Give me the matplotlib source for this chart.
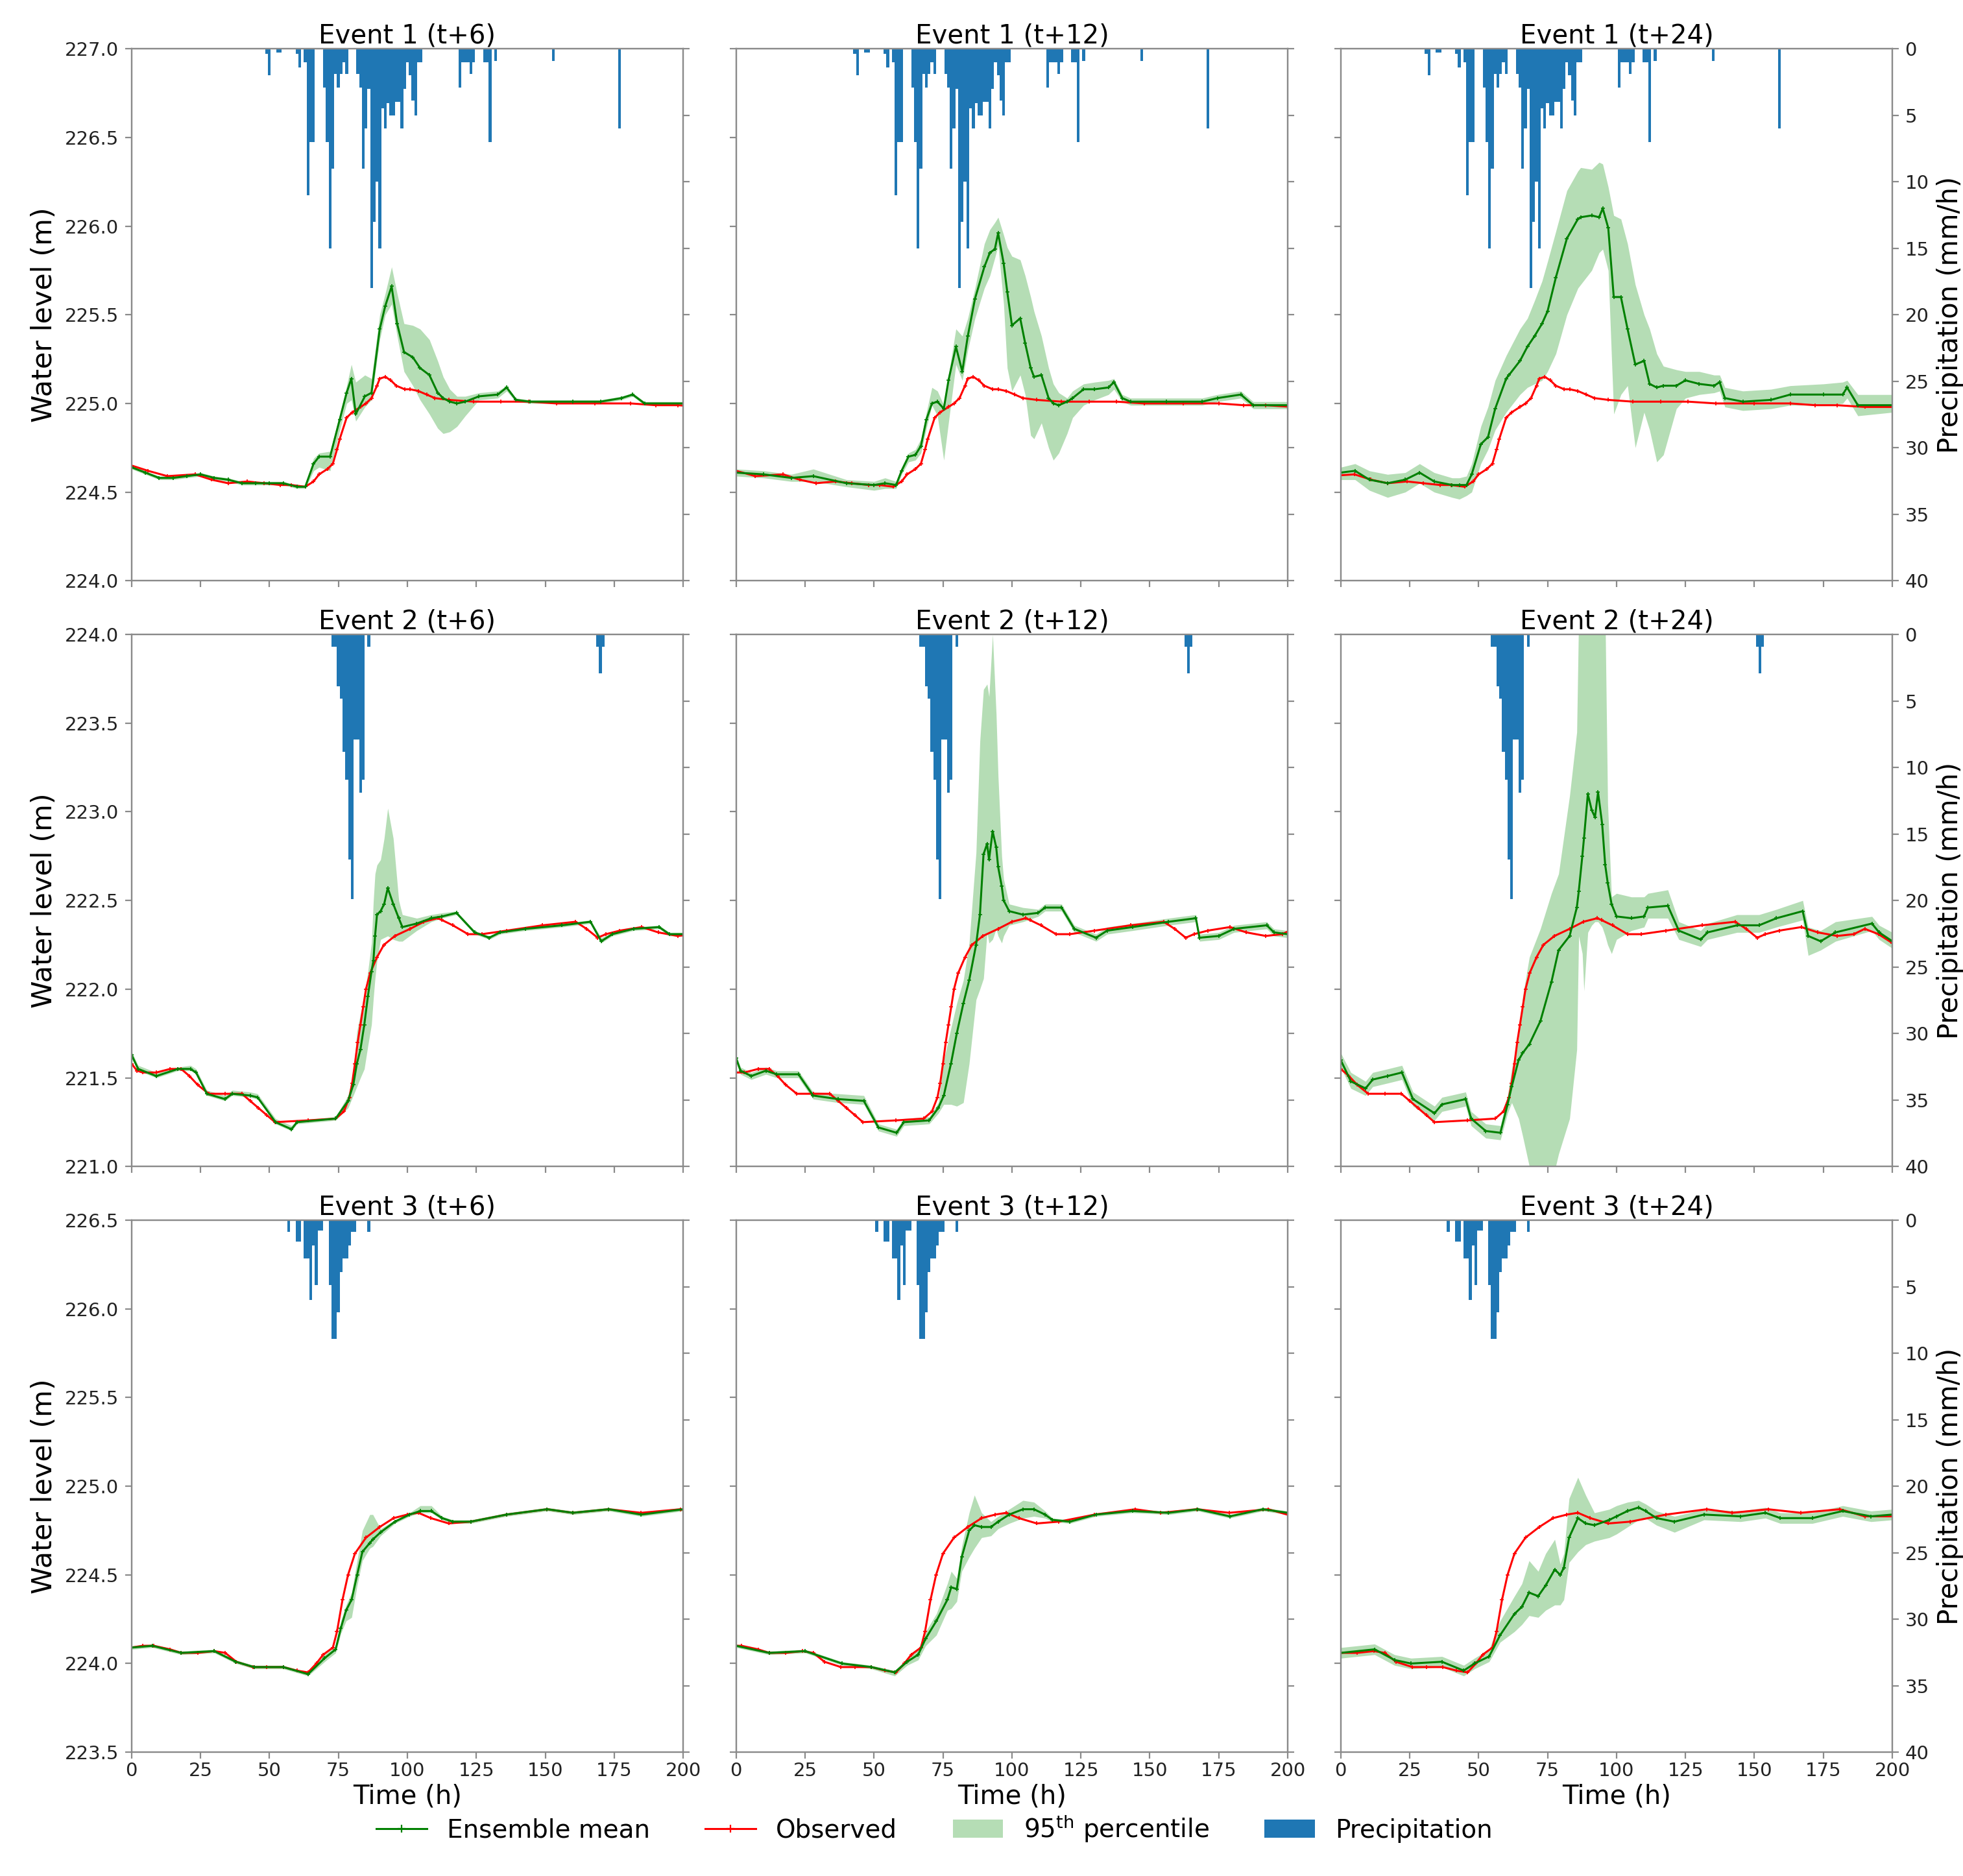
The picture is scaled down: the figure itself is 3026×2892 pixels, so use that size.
import matplotlib
matplotlib.use('Agg')
import matplotlib.pyplot as plt
import numpy as np
from matplotlib.lines import Line2D
from matplotlib.patches import Patch

# ---- layout constants -------------------------------------------------------
LEADS = [6, 12, 24]
EVENTS = ['Event 1', 'Event 2', 'Event 3']
YLIMS = [(224.0, 227.0), (221.0, 224.0), (223.5, 226.5)]

# ---- observed water level (event hours; panel hour = event hour - lead) ------
OBS1_T = [6, 12, 19, 29, 35, 41, 48, 54, 60, 64, 69, 72, 74, 77, 79, 80.5, 81.5, 84, 86, 89,
          91, 93, 95, 96, 98, 100, 102, 105, 107, 110, 113, 116, 121, 130, 140, 150, 160, 174, 187, 196,
          204, 214, 224]
OBS1_V = [224.65, 224.62, 224.59, 224.60, 224.57, 224.55, 224.56, 224.55, 224.54, 224.54,
          224.53, 224.56, 224.60, 224.63, 224.66, 224.74, 224.80, 224.92, 224.95, 224.98,
          225.00, 225.03, 225.10, 225.14, 225.15, 225.13, 225.10, 225.08, 225.08, 225.07,
          225.05, 225.03, 225.02, 225.01, 225.01, 225.01, 225.00, 225.00, 225.00, 224.99,
          224.99, 224.98, 224.98]

OBS2_T = [6, 8, 10, 15, 20, 24, 27, 30, 34, 40, 46, 49, 52, 55, 58, 70, 80, 83, 85, 86,
          87, 88, 89, 90, 91, 92.5, 95, 97.5, 101.5, 107, 112, 117, 118.5, 122.5, 128, 133, 142, 155, 167, 171,
          175, 178, 183, 191, 197, 204, 210, 214, 219, 224]
OBS2_V = [221.58, 221.54, 221.53, 221.53, 221.55, 221.55, 221.51, 221.46, 221.41, 221.41,
          221.41, 221.37, 221.33, 221.29, 221.25, 221.26, 221.27, 221.31, 221.39, 221.47,
          221.58, 221.70, 221.80, 221.90, 222.00, 222.09, 222.18, 222.25, 222.30, 222.34,
          222.38, 222.40, 222.39, 222.36, 222.31, 222.31, 222.33, 222.36, 222.38, 222.34,
          222.29, 222.31, 222.33, 222.35, 222.32, 222.30, 222.31, 222.34, 222.31, 222.26]

OBS3_T = [6, 10, 14, 20, 24, 30, 36, 40, 44, 50, 55, 61, 66, 70, 73, 75.5, 79, 80.5, 82.5, 84.5,
          87, 91, 96, 101, 106, 110, 114.5, 121, 129, 142, 156.7, 166, 179, 190.8, 205, 214, 224]
OBS3_V = [224.09, 224.10, 224.10, 224.08, 224.06, 224.06, 224.07, 224.06, 224.01, 223.98,
          223.98, 223.98, 223.96, 223.95, 224.00, 224.05, 224.09, 224.18, 224.36, 224.50,
          224.62, 224.71, 224.77, 224.82, 224.84, 224.85, 224.82, 224.79, 224.80, 224.84,
          224.87, 224.85, 224.87, 224.85, 224.87, 224.83, 224.83]

# ---- precipitation (event hours, mm/h) ---------------------------------------
P1_T = [55, 56, 59, 60, 66, 67, 69, 70, 71, 72, 76, 77, 78, 79, 80, 81, 82, 83, 84, 88,
        89, 90, 91, 92, 93, 94, 95, 96, 97, 98, 99, 100, 101, 102, 103, 104, 105, 106, 107, 108,
        109, 110, 111, 125, 126, 127, 128, 129, 130, 134, 135, 136, 138, 159, 183]
P1_V = [0.4, 2.0, 0.3, 0.3, 0.4, 1.4, 1.0, 11.0, 7.0, 7.0, 2.9, 7.0, 15.0, 9.0, 1.9, 2.9, 1.9, 1.0, 1.9, 1.9,
        2.9, 9.0, 6.0, 3.0, 18.0, 13.0, 10.0, 15.0, 4.5, 6.0, 4.1, 5.0, 5.0, 4.0, 4.0, 6.0, 3.0, 1.0, 2.0, 3.9,
        5.0, 1.0, 1.0, 2.9, 1.0, 1.0, 1.0, 1.9, 1.0, 1.0, 1.0, 7.0, 0.9, 0.9, 6.0]

P2_T = [79, 80, 81, 82, 83, 84, 85, 86, 87, 88, 89, 90, 92, 175, 176, 177]
P2_V = [0.9, 0.9, 3.9, 4.8, 8.8, 10.9, 16.9, 19.9, 7.9, 7.9, 11.9, 10.9, 0.9, 0.9, 2.9, 0.9]

P3_T = [63, 66, 67, 69, 70, 71, 72, 73, 74, 75, 78, 79, 80, 81, 82, 83, 84, 85, 86, 87, 92]
P3_V = [0.9, 1.6, 1.6, 2.9, 2.9, 6.0, 1.9, 4.9, 0.8, 0.8, 4.9, 8.9, 8.9, 6.9, 3.9, 2.9, 2.9, 1.9, 0.9, 0.9, 0.9]

# ---- ensemble forecasts, panel hours: mean, 95th percentile band --------------
# Event 1, t+6
E1_6_T = [0, 5, 10, 15, 20, 25, 30, 35, 40, 45, 50, 55, 60, 63, 66, 68, 72, 75.5, 78, 79.7,
          81.3, 84.6, 87, 90, 92, 94.3, 96.3, 98.8, 102, 104.6, 108, 111, 113, 115.4, 118, 121, 126, 132.8, 136, 139.4,
          144.4, 160, 170, 177.6, 181.7, 186, 200]
E1_6_M = [224.64, 224.61, 224.58, 224.58, 224.59, 224.60, 224.58, 224.57, 224.55, 224.55,
          224.55, 224.55, 224.53, 224.53, 224.66, 224.70, 224.70, 224.91, 225.06, 225.14,
          224.94, 225.04, 225.06, 225.42, 225.55, 225.66, 225.45, 225.29, 225.26, 225.20,
          225.16, 225.06, 225.03, 225.01, 225.00, 225.01, 225.04, 225.05, 225.09, 225.02,
          225.01, 225.01, 225.01, 225.03, 225.05, 225.00, 225.00]
E1_6_LO = [224.63, 224.60, 224.57, 224.57, 224.58, 224.59, 224.57, 224.56, 224.54, 224.54,
           224.54, 224.54, 224.52, 224.52, 224.62, 224.64, 224.62, 224.85, 225.00, 225.02,
           224.90, 224.98, 225.02, 225.36, 225.50, 225.56, 225.38, 225.18, 225.10, 225.02,
           224.94, 224.86, 224.83, 224.84, 224.87, 224.93, 225.02, 225.03, 225.07, 225.01,
           225.00, 225.00, 225.00, 225.02, 225.04, 224.99, 224.99]
E1_6_HI = [224.65, 224.62, 224.59, 224.59, 224.60, 224.61, 224.59, 224.58, 224.56, 224.56,
           224.56, 224.56, 224.54, 224.54, 224.69, 224.72, 224.73, 224.94, 225.10, 225.22,
           225.12, 225.16, 225.14, 225.50, 225.62, 225.77, 225.62, 225.45, 225.44, 225.42,
           225.36, 225.24, 225.15, 225.08, 225.04, 225.04, 225.06, 225.07, 225.10, 225.03,
           225.02, 225.02, 225.02, 225.04, 225.06, 225.01, 225.01]

# Event 1, t+12
E1_12_T = [0, 10, 20, 28, 40, 50, 54, 58, 60, 62.5, 65, 67, 69, 71, 73, 75.3, 77, 79.7, 82, 84,
           86.6, 90, 92, 93.8, 95, 97, 98.3, 100, 103, 104.8, 106.8, 108, 110.7, 113.3, 115, 117, 120, 122, 126, 130,
           135, 137, 140, 143, 156, 169, 174.5, 183, 187.5, 200]
E1_12_M = [224.61, 224.60, 224.58, 224.59, 224.55, 224.54, 224.55, 224.54, 224.62, 224.70,
           224.71, 224.76, 224.91, 225.00, 225.01, 224.97, 225.13, 225.32, 225.18, 225.38,
           225.59, 225.77, 225.85, 225.87, 225.96, 225.79, 225.63, 225.44, 225.48, 225.34,
           225.20, 225.15, 225.16, 225.03, 225.00, 224.99, 225.01, 225.03, 225.08, 225.08,
           225.09, 225.12, 225.03, 225.01, 225.01, 225.01, 225.03, 225.05, 224.99, 224.99]
E1_12_LO = [224.59, 224.58, 224.56, 224.56, 224.53, 224.51, 224.52, 224.52, 224.60, 224.67,
            224.68, 224.72, 224.86, 224.99, 224.93, 224.68, 224.89, 225.22, 225.13, 225.30,
            225.48, 225.65, 225.72, 225.82, 225.89, 225.56, 225.20, 225.07, 225.16, 225.05,
            224.82, 224.80, 224.89, 224.75, 224.68, 224.72, 224.83, 224.92, 224.99, 225.02,
            225.05, 225.08, 225.01, 224.99, 224.99, 224.99, 225.01, 225.03, 224.97, 224.97]
E1_12_HI = [224.63, 224.62, 224.60, 224.63, 224.57, 224.56, 224.58, 224.56, 224.64, 224.72,
            224.74, 224.80, 224.95, 225.09, 225.07, 224.99, 225.16, 225.42, 225.38, 225.48,
            225.65, 225.90, 225.98, 226.02, 226.05, 225.95, 225.88, 225.83, 225.81, 225.72,
            225.60, 225.52, 225.38, 225.20, 225.11, 225.06, 225.03, 225.07, 225.11, 225.12,
            225.13, 225.14, 225.05, 225.03, 225.03, 225.03, 225.05, 225.07, 225.01, 225.01]

# Event 1, t+24
E1_24_T = [0, 5.2, 10.4, 17, 23.4, 28.6, 33.9, 40.4, 43, 45.6, 47.5, 50.8, 53.4, 56, 60, 61, 65, 67.7, 70.3, 73,
           75, 78, 82, 86, 87, 91, 93.7, 95, 97, 99, 101.6, 104, 106.8, 110, 112, 114.6, 117, 121.7, 125, 130,
           135.4, 137.4, 139.3, 145.8, 156, 163, 175, 182, 183.6, 187.5, 200]
E1_24_M = [224.61, 224.62, 224.57, 224.55, 224.57, 224.61, 224.56, 224.54, 224.54, 224.54,
           224.60, 224.77, 224.81, 224.97, 225.14, 225.16, 225.24, 225.32, 225.38, 225.45,
           225.52, 225.71, 225.93, 226.04, 226.05, 226.06, 226.05, 226.10, 225.99, 225.60,
           225.60, 225.42, 225.22, 225.24, 225.11, 225.09, 225.10, 225.10, 225.13, 225.11,
           225.10, 225.12, 225.03, 225.01, 225.02, 225.05, 225.05, 225.05, 225.09, 224.99, 224.99]
E1_24_LO = [224.57, 224.57, 224.51, 224.47, 224.50, 224.55, 224.50, 224.47, 224.46, 224.48,
            224.50, 224.66, 224.74, 224.85, 224.95, 224.97, 225.05, 225.09, 225.11, 225.13,
            225.18, 225.28, 225.50, 225.65, 225.67, 225.75, 225.85, 225.87, 225.75, 224.94,
            225.05, 225.10, 224.75, 224.95, 224.85, 224.67, 224.71, 224.97, 225.03, 225.05,
            225.06, 225.07, 224.98, 224.96, 224.97, 224.99, 224.99, 225.00, 225.03, 224.93, 224.95]
E1_24_HI = [224.64, 224.66, 224.62, 224.60, 224.61, 224.66, 224.61, 224.58, 224.58, 224.59,
            224.66, 224.87, 224.98, 225.13, 225.27, 225.30, 225.42, 225.48, 225.58, 225.69,
            225.80, 225.97, 226.20, 226.31, 226.33, 226.32, 226.36, 226.35, 226.22, 226.06,
            226.04, 225.90, 225.67, 225.50, 225.42, 225.28, 225.21, 225.19, 225.18, 225.18,
            225.16, 225.16, 225.09, 225.07, 225.08, 225.10, 225.11, 225.12, 225.13, 225.05, 225.05]

# Event 2, t+6
E2_6_T = [0, 2.4, 9, 16.8, 21.4, 23.4, 27.3, 33.9, 36.5, 43, 45.7, 52.2, 58, 60, 74, 78.5, 80.4, 81.7, 83, 84.4,
          85.7, 87, 87.7, 88.3, 89, 90.3, 91.6, 92.9, 94.9, 96.9, 98.2, 103.4, 108.7, 112.6, 117.8, 124.4, 129.7, 133.6, 142.8, 156,
          166.4, 170.3, 174.3, 182, 191.3, 195, 200]
E2_6_M = [221.63, 221.55, 221.51, 221.55, 221.55, 221.53, 221.41, 221.38, 221.41, 221.40,
          221.39, 221.25, 221.21, 221.25, 221.27, 221.37, 221.46, 221.58, 221.66, 221.80,
          221.96, 222.10, 222.16, 222.30, 222.42, 222.44, 222.48, 222.57, 222.48, 222.40,
          222.35, 222.37, 222.40, 222.41, 222.43, 222.32, 222.29, 222.32, 222.34, 222.36,
          222.38, 222.27, 222.31, 222.34, 222.35, 222.31, 222.31]
E2_6_LO = [221.61, 221.54, 221.50, 221.54, 221.54, 221.52, 221.40, 221.37, 221.40, 221.39,
           221.38, 221.24, 221.20, 221.24, 221.26, 221.33, 221.40, 221.45, 221.50, 221.55,
           221.68, 221.80, 221.95, 222.06, 222.16, 222.28, 222.29, 222.30, 222.28, 222.27,
           222.27, 222.33, 222.38, 222.40, 222.42, 222.31, 222.28, 222.31, 222.33, 222.35,
           222.37, 222.26, 222.30, 222.33, 222.34, 222.30, 222.30]
E2_6_HI = [221.65, 221.57, 221.53, 221.56, 221.57, 221.55, 221.43, 221.40, 221.43, 221.42,
           221.41, 221.27, 221.23, 221.26, 221.28, 221.40, 221.52, 221.76, 221.86, 221.96,
           222.10, 222.26, 222.50, 222.65, 222.70, 222.73, 222.85, 223.02, 222.85, 222.50,
           222.42, 222.40, 222.42, 222.43, 222.44, 222.33, 222.30, 222.33, 222.35, 222.37,
           222.39, 222.29, 222.32, 222.35, 222.36, 222.32, 222.32]

# Event 2, t+12
E2_12_T = [0, 1.6, 5.5, 10.8, 14.7, 22.6, 27.9, 37, 46.3, 51.6, 58.2, 60.8, 70, 73.3, 75.3, 77.9, 80, 82.4, 84.5, 87,
           88.4, 89.7, 91, 91.7, 93, 94.3, 95, 96.3, 97, 99, 104, 109.5, 112, 118, 122.6, 130.5, 134.5, 143.7, 156.8, 166.7,
           168, 175, 180.5, 192.4, 195, 200]
E2_12_M = [221.61, 221.54, 221.51, 221.54, 221.52, 221.52, 221.40, 221.38, 221.37, 221.22,
           221.19, 221.25, 221.26, 221.33, 221.40, 221.58, 221.75, 221.92, 222.05, 222.25,
           222.42, 222.76, 222.82, 222.73, 222.89, 222.80, 222.69, 222.58, 222.50, 222.44,
           222.42, 222.43, 222.46, 222.46, 222.34, 222.29, 222.33, 222.35, 222.38, 222.40,
           222.29, 222.30, 222.34, 222.36, 222.32, 222.31]
E2_12_LO = [221.59, 221.52, 221.49, 221.52, 221.50, 221.50, 221.38, 221.36, 221.35, 221.20,
            221.17, 221.23, 221.24, 221.30, 221.35, 221.35, 221.34, 221.36, 221.58, 221.94,
            222.00, 222.06, 222.32, 222.26, 222.28, 222.34, 222.30, 222.26, 222.30, 222.36,
            222.38, 222.41, 222.44, 222.44, 222.32, 222.27, 222.31, 222.33, 222.36, 222.38,
            222.27, 222.28, 222.32, 222.34, 222.30, 222.29]
E2_12_HI = [221.63, 221.56, 221.53, 221.56, 221.54, 221.54, 221.42, 221.41, 221.40, 221.24,
            221.21, 221.27, 221.28, 221.36, 221.60, 221.78, 221.92, 222.05, 222.26, 222.77,
            223.40, 223.69, 223.72, 223.65, 224.00, 223.55, 223.20, 222.75, 222.62, 222.48,
            222.46, 222.45, 222.48, 222.48, 222.36, 222.31, 222.35, 222.37, 222.40, 222.42,
            222.31, 222.32, 222.36, 222.38, 222.34, 222.33]

# Event 2, t+24
E2_24_T = [0, 3.7, 9, 11.6, 17, 22.2, 26.2, 34, 36.7, 45.3, 47.3, 52.6, 57.9, 60.5, 62, 64.5, 66, 68.4, 72.4, 76.4,
           79, 83, 85.6, 86.3, 87.6, 88.2, 89.6, 91, 92.2, 93.3, 94.8, 95.9, 96.8, 98.2, 100, 105.4, 110, 111.4, 118.6, 122.6,
           130.5, 133, 143.7, 151.7, 158, 167.5, 169.5, 174, 179.4, 192.6, 195.2, 200]
E2_24_M = [221.60, 221.48, 221.44, 221.49, 221.51, 221.53, 221.38, 221.30, 221.35, 221.38,
           221.27, 221.20, 221.19, 221.35, 221.45, 221.60, 221.64, 221.69, 221.82, 222.04,
           222.22, 222.30, 222.46, 222.55, 222.75, 222.85, 223.10, 223.01, 222.97, 223.11,
           222.93, 222.70, 222.60, 222.48, 222.41, 222.40, 222.41, 222.46, 222.47, 222.33,
           222.28, 222.32, 222.36, 222.36, 222.40, 222.44, 222.30, 222.27, 222.32, 222.37,
           222.32, 222.27]
E2_24_LO = [221.56, 221.44, 221.40, 221.45, 221.47, 221.49, 221.34, 221.26, 221.31, 221.34,
            221.23, 221.16, 221.15, 221.30, 221.36, 221.27, 221.17, 221.00, 220.90, 220.90,
            221.07, 221.27, 221.66, 222.30, 222.20, 221.99, 222.32, 222.36, 222.38, 222.38,
            222.35, 222.30, 222.25, 222.20, 222.28, 222.33, 222.35, 222.40, 222.40, 222.28,
            222.24, 222.28, 222.32, 222.32, 222.35, 222.39, 222.19, 222.22, 222.27, 222.33,
            222.28, 222.23]
E2_24_HI = [221.64, 221.53, 221.48, 221.53, 221.55, 221.57, 221.42, 221.34, 221.39, 221.42,
            221.31, 221.24, 221.23, 221.40, 221.55, 221.72, 221.96, 222.18, 222.34, 222.54,
            222.65, 223.09, 223.45, 224.10, 224.10, 224.10, 224.10, 224.10, 224.10, 224.10,
            224.10, 224.10, 223.05, 222.52, 222.54, 222.52, 222.52, 222.54, 222.56, 222.38,
            222.33, 222.37, 222.42, 222.42, 222.45, 222.50, 222.35, 222.33, 222.38, 222.41,
            222.36, 222.32]

# Event 3, t+6
E3_6_T = [0, 7.6, 18, 30, 37.8, 44.4, 55, 64, 70, 74, 75.9, 77.8, 79.8, 81.8, 83.7, 86.4, 87.5, 90.3, 95.5, 100.8,
          104.7, 108.7, 112.6, 116.5, 123, 136, 150.7, 160, 173, 184.8, 200]
E3_6_M = [224.09, 224.10, 224.06, 224.07, 224.01, 223.98, 223.98, 223.94, 224.03, 224.08,
          224.20, 224.30, 224.36, 224.50, 224.63, 224.68, 224.70, 224.74, 224.80, 224.84,
          224.86, 224.86, 224.82, 224.80, 224.80, 224.84, 224.87, 224.85, 224.87, 224.84, 224.87]
E3_6_LO = [224.08, 224.09, 224.05, 224.06, 224.00, 223.97, 223.97, 223.93, 224.01, 224.06,
           224.17, 224.24, 224.26, 224.44, 224.58, 224.65, 224.66, 224.72, 224.79, 224.83,
           224.85, 224.85, 224.81, 224.79, 224.79, 224.83, 224.86, 224.84, 224.86, 224.83, 224.86]
E3_6_HI = [224.10, 224.11, 224.07, 224.08, 224.02, 223.99, 223.99, 223.95, 224.05, 224.10,
           224.24, 224.33, 224.40, 224.58, 224.75, 224.84, 224.84, 224.76, 224.81, 224.85,
           224.89, 224.89, 224.83, 224.81, 224.81, 224.85, 224.88, 224.86, 224.88, 224.85, 224.88]

# Event 3, t+12
E3_12_T = [0, 12, 25, 38.4, 49, 57.5, 62, 66, 68.7, 72.6, 76.6, 78, 80, 81.8, 84.5, 86.4, 89, 92.4, 95, 99,
           104, 108, 112, 114.7, 121, 130.5, 143.7, 156.8, 167.4, 179, 191, 200]
E3_12_M = [224.10, 224.06, 224.07, 224.00, 223.98, 223.95, 224.01, 224.05, 224.14, 224.24,
           224.36, 224.43, 224.42, 224.60, 224.75, 224.78, 224.77, 224.77, 224.80, 224.84,
           224.87, 224.87, 224.84, 224.81, 224.80, 224.84, 224.86, 224.85, 224.87, 224.83,
           224.87, 224.85]
E3_12_LO = [224.09, 224.05, 224.06, 223.99, 223.97, 223.93, 223.99, 224.02, 224.10, 224.16,
            224.30, 224.31, 224.35, 224.52, 224.60, 224.65, 224.71, 224.72, 224.76, 224.79,
            224.82, 224.83, 224.82, 224.80, 224.79, 224.83, 224.85, 224.84, 224.86, 224.82,
            224.86, 224.84]
E3_12_HI = [224.11, 224.07, 224.08, 224.01, 223.99, 223.96, 224.03, 224.08, 224.18, 224.28,
            224.45, 224.52, 224.48, 224.66, 224.85, 224.95, 224.85, 224.80, 224.83, 224.87,
            224.92, 224.91, 224.86, 224.82, 224.81, 224.85, 224.87, 224.86, 224.88, 224.84,
            224.88, 224.86]

# Event 3, t+24
E3_24_T = [0, 12.3, 19.5, 25.5, 36.7, 44.6, 48.5, 53.8, 57.8, 63, 65.7, 68.3, 71.6, 74.3, 77.6, 79.6, 80.9, 82.8, 86, 88.8,
           92, 97.4, 100, 104, 108, 110.5, 114.5, 121, 131.7, 145, 154, 159.4, 171, 182, 192.3, 200]
E3_24_M = [224.06, 224.08, 224.02, 224.00, 224.01, 223.96, 224.00, 224.04, 224.16, 224.28,
           224.32, 224.40, 224.38, 224.44, 224.53, 224.50, 224.54, 224.71, 224.82, 224.79,
           224.78, 224.81, 224.83, 224.86, 224.88, 224.86, 224.82, 224.80, 224.84, 224.83,
           224.85, 224.82, 224.82, 224.86, 224.83, 224.84]
E3_24_LO = [224.03, 224.05, 223.99, 223.97, 223.98, 223.93, 223.97, 224.01, 224.12, 224.18,
            224.22, 224.27, 224.26, 224.30, 224.33, 224.33, 224.36, 224.57, 224.63, 224.67,
            224.69, 224.71, 224.73, 224.77, 224.81, 224.82, 224.78, 224.74, 224.81, 224.80,
            224.82, 224.79, 224.79, 224.83, 224.80, 224.81]
E3_24_HI = [224.09, 224.11, 224.05, 224.03, 224.04, 223.99, 224.03, 224.08, 224.24, 224.38,
            224.45, 224.58, 224.52, 224.62, 224.70, 224.56, 224.62, 224.93, 225.05, 224.95,
            224.85, 224.87, 224.89, 224.91, 224.92, 224.90, 224.86, 224.83, 224.87, 224.86,
            224.88, 224.85, 224.85, 224.89, 224.86, 224.87]

OBS = [(OBS1_T, OBS1_V), (OBS2_T, OBS2_V), (OBS3_T, OBS3_V)]
PRECIP = [(P1_T, P1_V), (P2_T, P2_V), (P3_T, P3_V)]
ENS = [
    [(E1_6_T, E1_6_M, E1_6_LO, E1_6_HI), (E1_12_T, E1_12_M, E1_12_LO, E1_12_HI), (E1_24_T, E1_24_M, E1_24_LO, E1_24_HI)],
    [(E2_6_T, E2_6_M, E2_6_LO, E2_6_HI), (E2_12_T, E2_12_M, E2_12_LO, E2_12_HI), (E2_24_T, E2_24_M, E2_24_LO, E2_24_HI)],
    [(E3_6_T, E3_6_M, E3_6_LO, E3_6_HI), (E3_12_T, E3_12_M, E3_12_LO, E3_12_HI), (E3_24_T, E3_24_M, E3_24_LO, E3_24_HI)],
]

# ---- styles ---------------------------------------------------------------
C_MEAN = 'green'
C_OBS = 'red'
C_BAND = '#2ca02c'
C_RAIN = '#1f77b4'
EDGE = '#8a8a8a'

plt.rcParams['font.family'] = ['DejaVu Sans']
plt.rcParams['axes.edgecolor'] = EDGE
plt.rcParams['xtick.color'] = EDGE
plt.rcParams['ytick.color'] = EDGE
plt.rcParams['xtick.labelcolor'] = '#222222'
plt.rcParams['ytick.labelcolor'] = '#222222'

fig, axes = plt.subplots(3, 3, figsize=(15.13, 14.46), dpi=200)
fig.subplots_adjust(left=0.067, right=0.964, top=0.974, bottom=0.066, wspace=0.096, hspace=0.101)

for r in range(3):
    for c in range(3):
        ax = axes[r, c]
        lead = LEADS[c]
        t, m, lo, hi = ENS[r][c]
        ot, ov = OBS[r]
        pt, pv = PRECIP[r]

        # precipitation on twin axis (inverted, hangs from the top)
        ax2 = ax.twinx()
        ax2.bar(np.array(pt) - lead, pv, width=1.0, color=C_RAIN, linewidth=0)
        ax2.set_ylim(40, 0)
        ax2.set_yticks(np.arange(0, 41, 5))
        ax.set_zorder(ax2.get_zorder() + 1)
        ax.patch.set_visible(False)

        # water level
        ax.fill_between(t, lo, hi, color=C_BAND, alpha=0.35, linewidth=0)
        ax.plot(np.array(ot) - lead, ov, color=C_OBS, lw=1.1, marker='+', ms=2.5, mew=0.6)
        ax.plot(t, m, color=C_MEAN, lw=1.1, marker='+', ms=2.5, mew=0.6)

        ax.set_xlim(0, 200)
        ax.set_xticks(np.arange(0, 201, 25))
        ax.set_ylim(*YLIMS[r])
        ax.set_yticks(np.arange(YLIMS[r][0], YLIMS[r][1] + 0.01, 0.5))
        ax.yaxis.set_major_formatter(matplotlib.ticker.FormatStrFormatter('%.1f'))
        ax.set_title(f'{EVENTS[r]} (t+{lead})', fontsize=14.5, pad=3)

        ax.tick_params(labelsize=10.5)
        ax.tick_params(axis='x', pad=2)
        ax2.tick_params(labelsize=10.5)
        if c != 0:
            ax.tick_params(labelleft=False)
        else:
            ax.set_ylabel('Water level (m)', fontsize=15.5)
        if c != 2:
            ax2.tick_params(labelright=False)
        else:
            ax2.set_ylabel('Precipitation (mm/h)', fontsize=15)
        if r != 2:
            ax.tick_params(labelbottom=False)
        else:
            ax.set_xlabel('Time (h)', fontsize=14.5, labelpad=2)

handles = [
    Line2D([], [], color=C_MEAN, lw=1.1, marker='+', ms=4, mew=0.8),
    Line2D([], [], color=C_OBS, lw=1.1, marker='+', ms=4, mew=0.8),
    Patch(facecolor=C_BAND, alpha=0.35),
    Patch(facecolor=C_RAIN),
]
labels = ['Ensemble mean', 'Observed', '95$^{\\mathrm{th}}$ percentile', 'Precipitation']
fig.legend(handles, labels, loc='lower center', bbox_to_anchor=(0.476, 0.005), ncol=4,
           frameon=False, fontsize=14, columnspacing=2.2)

fig.savefig('out.png', dpi=200)
